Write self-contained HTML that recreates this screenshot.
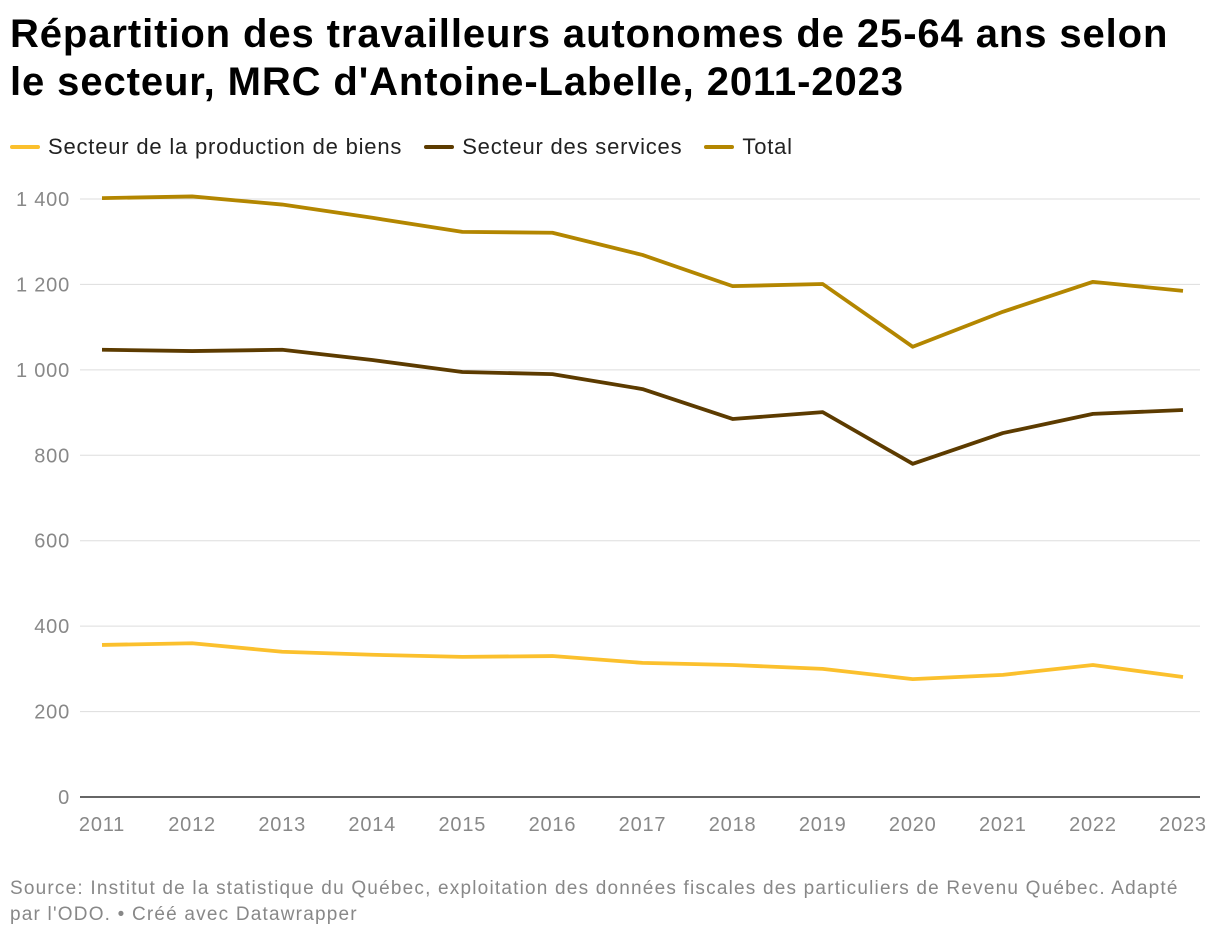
<!DOCTYPE html>
<html><head><meta charset="utf-8"><style>
body{margin:0;background:#fff;font-family:"Liberation Sans",sans-serif;}
#wrap{position:relative;width:1220px;height:940px;overflow:hidden}
h1{position:absolute;left:10px;top:10px;margin:0;font-size:40px;line-height:48px;font-weight:bold;color:#000;letter-spacing:0.9px;width:1210px;white-space:nowrap}
.legend{position:absolute;top:134px;left:10px;font-size:22px;color:#222;display:flex;gap:22px;letter-spacing:0.8px}
.legend span{display:flex;align-items:center}
.legend i{display:inline-block;width:30px;height:4px;margin-right:8px;border-radius:2px}
.src{position:absolute;left:10px;top:876px;font-size:19px;line-height:26px;color:#888;width:1210px;letter-spacing:1.2px;white-space:nowrap}
</style></head><body><div id="wrap">
<h1>Répartition des travailleurs autonomes de 25-64 ans selon<br>le secteur, MRC d'Antoine-Labelle, 2011-2023</h1>
<div class="legend">
<span><i style="background:#fbc02d"></i>Secteur de la production de biens</span>
<span><i style="background:#5c3b00"></i>Secteur des services</span>
<span><i style="background:#b38600"></i>Total</span>
</div>
<svg id="svg" width="1220" height="940" style="position:absolute;left:0;top:0"></svg>
<div class="src">Source: Institut de la statistique du Québec, exploitation des données fiscales des particuliers de Revenu Québec. Adapté<br>par l'ODO. • Créé avec Datawrapper</div>
</div>
<script>
const years=[2011,2012,2013,2014,2015,2016,2017,2018,2019,2020,2021,2022,2023];
const goods=[356,360,340,333,328,330,314,309,300,276,286,309,281];
const services=[1047,1044,1047,1023,995,990,955,885,901,780,852,897,906];
const total=[1402,1406,1387,1356,1323,1321,1269,1196,1201,1054,1136,1206,1185];
const yTicks=[0,200,400,600,800,1000,1200,1400];
const yTickLabels=["0","200","400","600","800","1 000","1 200","1 400"];
const NS="http://www.w3.org/2000/svg";
const svg=document.getElementById('svg');
const x=i=>102+(1183-102)*i/(years.length-1);
const y=v=>797-v*(797-199)/1400;
function mk(t,a){const e=document.createElementNS(NS,t);for(const k in a)e.setAttribute(k,a[k]);svg.appendChild(e);return e;}
yTicks.forEach((v,i)=>{
 const l=mk('line',{x1:80,x2:1200,y1:y(v),y2:y(v),stroke:v===0?'#333':'#ddd','stroke-width':v===0?1.5:1});
 
 
 const t=mk('text',{x:70,y:y(v)+7,'text-anchor':'end','font-size':20,fill:'#888','font-family':'Liberation Sans, sans-serif','letter-spacing':'0.8'});
 t.textContent=yTickLabels[i];
 
 
});
years.forEach((yr,i)=>{
 const t=mk('text',{x:x(i),y:831,'text-anchor':'middle','font-size':20,fill:'#888','font-family':'Liberation Sans, sans-serif','letter-spacing':'0.8'});
 t.textContent=yr;
 
 
});
[[goods,'#fbc02d','line-goods'],[services,'#5c3b00','line-services'],[total,'#b38600','line-total']].forEach(([d,c,n])=>{
 const p=mk('path',{d:d.map((v,i)=>(i?'L':'M')+x(i)+','+y(v)).join(''),fill:'none',stroke:c,'stroke-width':3.8,'stroke-linejoin':'round'});
 
 
});
</script></body></html>
